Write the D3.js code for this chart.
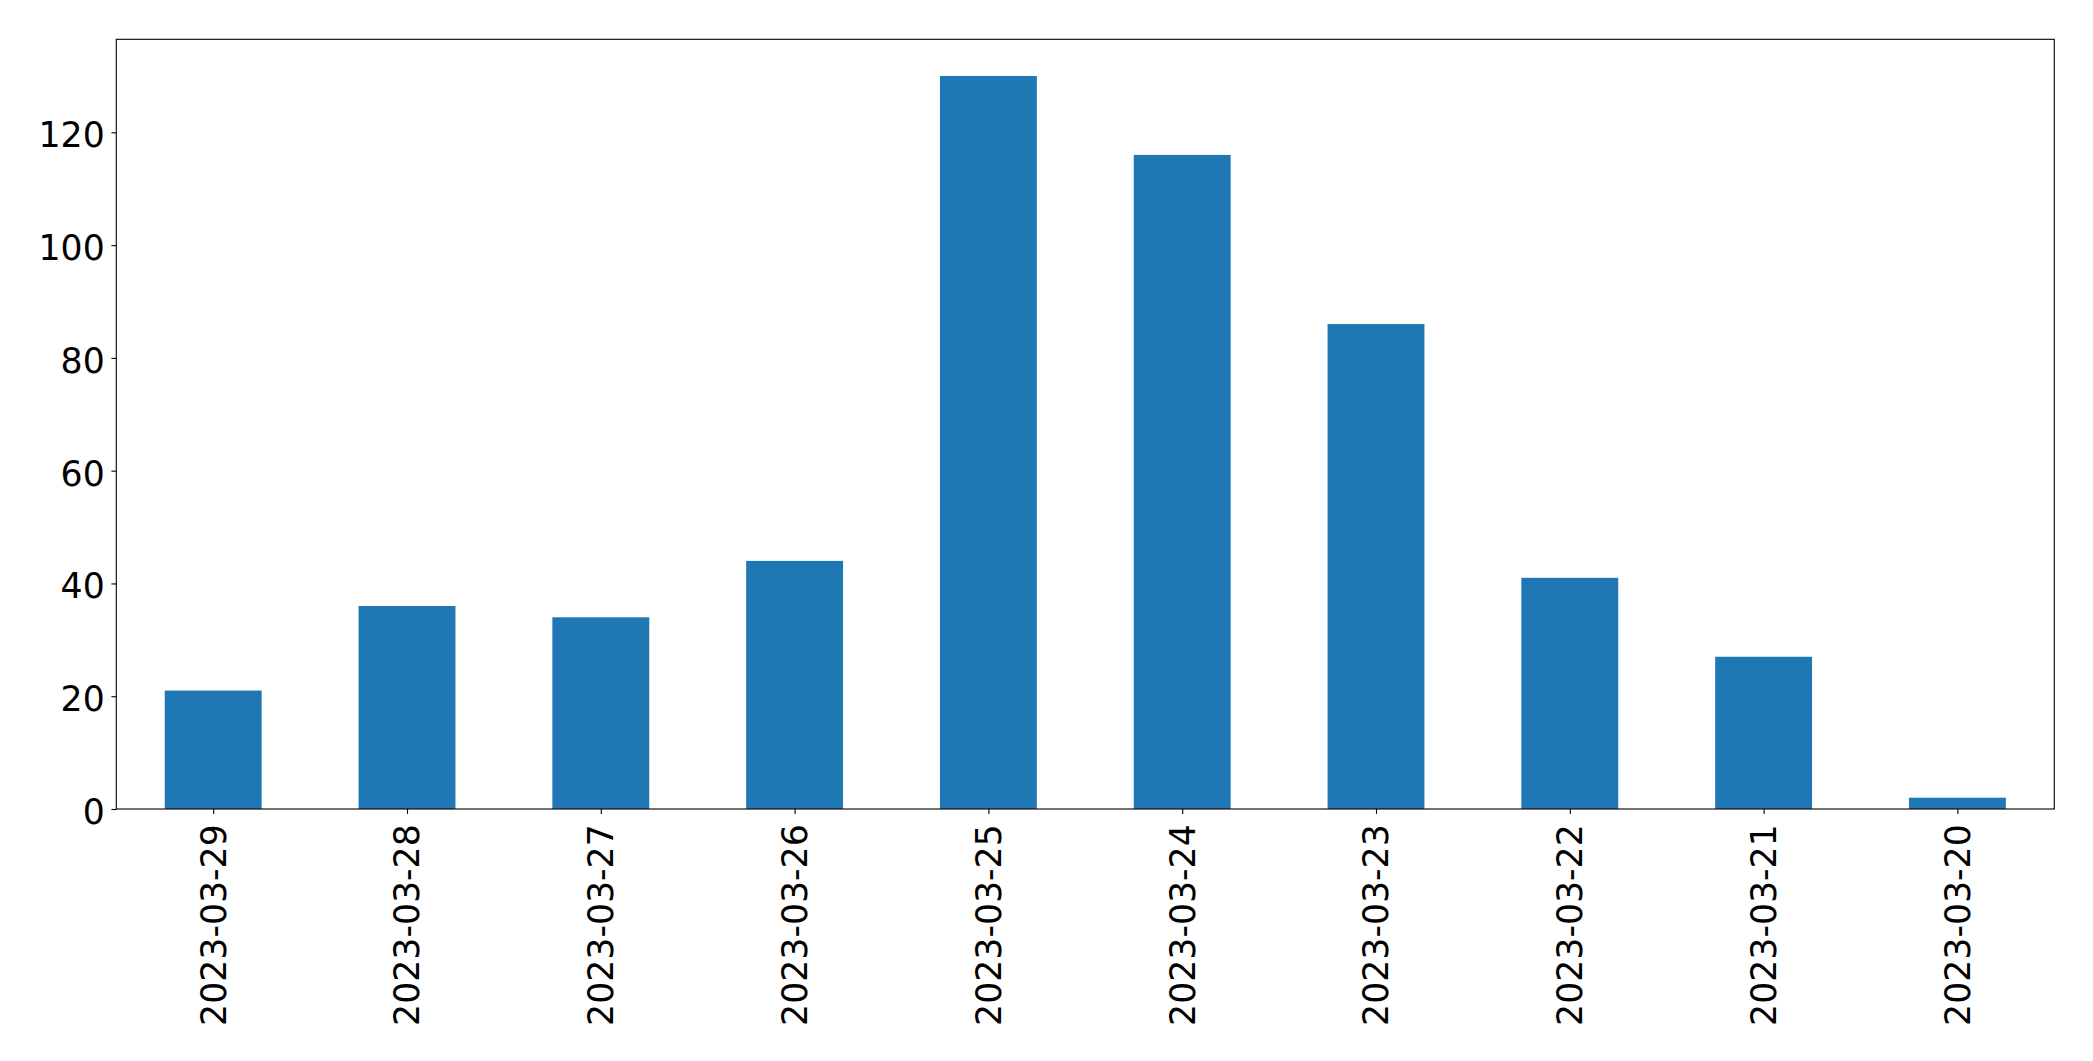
<!DOCTYPE html>
<html>
<head>
<meta charset="utf-8">
<script src="https://cdn.jsdelivr.net/npm/d3@7"></script>
<style>
  html, body { margin: 0; padding: 0; background: #fff; }
  svg { display: block; }
  text { font-family: "DejaVu Sans", sans-serif; fill: #000; }
</style>
</head>
<body>
<svg id="chart" width="2093" height="1061"></svg>
<script>
const categories = ["2023-03-29", "2023-03-28", "2023-03-27", "2023-03-26", "2023-03-25",
                    "2023-03-24", "2023-03-23", "2023-03-22", "2023-03-21", "2023-03-20"];
const values = [21, 36, 34, 44, 130, 116, 86, 41, 27, 2];
const yTicks = [0, 20, 40, 60, 80, 100, 120];

const W = 2093, H = 1061;
const margin = { left: 116.3, right: W - 2054.3, top: 39.3, bottom: H - 809 };
const plotW = W - margin.left - margin.right;
const plotH = H - margin.top - margin.bottom;
const fontSize = "34.7px";

const svg = d3.select("#chart");
const g = svg.append("g").attr("transform", `translate(${margin.left},${margin.top})`);

// matplotlib-like categorical axis: positions 0..n-1, limits -0.5..n-0.5
const xPos = d3.scaleLinear().domain([-0.5, categories.length - 0.5]).range([0, plotW]);
const barW = 0.5;
const y = d3.scaleLinear().domain([0, d3.max(values) * 1.05]).range([plotH, 0]);

// bars
g.selectAll("rect.bar").data(values).enter().append("rect")
  .attr("class", "bar")
  .attr("x", (d, i) => xPos(i - barW / 2))
  .attr("width", xPos(barW) - xPos(0))
  .attr("y", d => y(d))
  .attr("height", d => plotH - y(d))
  .attr("fill", "#1f77b4");

// y axis
const yAxis = d3.axisLeft(y).tickValues(yTicks).tickSize(4.9).tickPadding(6.7).tickFormat(d3.format("d"));
const yG = g.append("g").call(yAxis);
yG.select(".domain").remove();
yG.selectAll(".tick line").attr("stroke", "#000").attr("stroke-width", 1.1);
yG.selectAll(".tick text").attr("font-size", fontSize).attr("font-family", "DejaVu Sans")
  .attr("dy", "0.415em").attr("fill", "#000");

// x axis
const xAxis = d3.axisBottom(xPos).tickValues(d3.range(categories.length))
  .tickSize(4.9).tickFormat(i => categories[i]);
const xG = g.append("g").attr("transform", `translate(0,${plotH})`).call(xAxis);
xG.select(".domain").remove();
xG.selectAll(".tick line").attr("stroke", "#000").attr("stroke-width", 1.1);
xG.selectAll(".tick text")
  .attr("font-size", fontSize).attr("font-family", "DejaVu Sans").attr("fill", "#000")
  .attr("text-anchor", "end")
  .attr("transform", "rotate(-90)")
  .attr("x", -15.3)
  .attr("y", 0)
  .attr("dy", "0.34em");

// frame
g.append("rect").attr("x", 0).attr("y", 0).attr("width", plotW).attr("height", plotH)
  .attr("fill", "none").attr("stroke", "#000").attr("stroke-width", 1.1);
</script>
</body>
</html>
